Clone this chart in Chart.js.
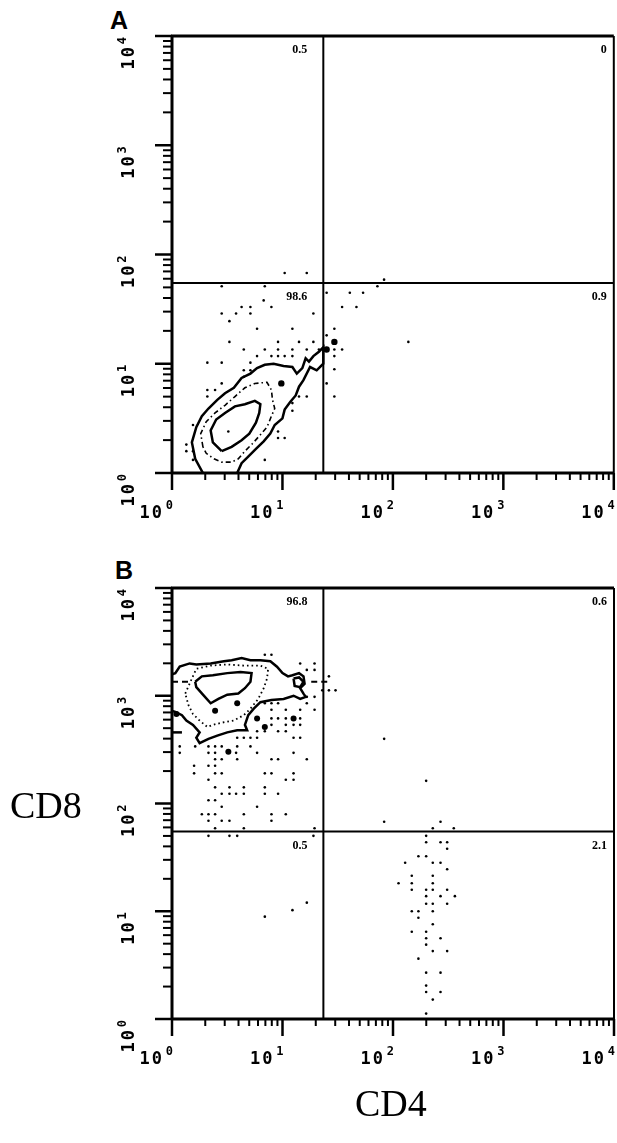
<!DOCTYPE html>
<html>
<head>
<meta charset="utf-8">
<script src="https://cdn.jsdelivr.net/npm/chart.js@4.4.1/dist/chart.umd.min.js"></script>
<style>
  html, body { margin: 0; padding: 0; background: #fff; }
  body { width: 617px; height: 1143px; position: relative; overflow: hidden; }
  canvas { position: absolute; left: 0; }
  .panel { position: absolute; font: bold 25px "Liberation Sans", Arial, sans-serif; line-height: 1; color: #000; }
  .axis-name { position: absolute; font: 38px "Liberation Serif", "Times New Roman", serif; line-height: 1; color: #000; }
</style>
</head>
<body>
<div class="panel" style="left:110px; top:8px">A</div>
<canvas id="chartA" width="617" height="540" style="top:0"></canvas>
<div class="panel" style="left:115px; top:558px">B</div>
<canvas id="chartB" width="617" height="545" style="top:543px"></canvas>
<div class="axis-name" style="left:10px; top:786px">CD8</div>
<div class="axis-name" style="left:355px; top:1084px">CD4</div>

<script>
// axes: log decades 10^0 .. 10^4 (values are log10 of fluorescence)
const decades = [0, 1, 2, 3, 4];
const decadeLabels = ['0', '1', '2', '3', '4'];   // exponents shown as 10^n
const minorSteps = [2, 3, 4, 5, 6, 7, 8, 9];

// quadrant gates [CD4, CD8] in decades
const gateA = [1.37, 1.74];
const gateB = [1.37, 1.74];

// quadrant percentages: upper-left, upper-right, lower-left, lower-right
const quadA = ['0.5', '0', '98.6', '0.9'];
const quadB = ['96.8', '0.6', '0.5', '2.1'];

// ---- panel A contours ----
const outerA = [[0.28,0.0],[0.21,0.13],[0.18,0.28],[0.22,0.42],[0.27,0.52],[0.33,0.59],[0.41,0.67],[0.48,0.73],
  [0.56,0.78],[0.63,0.87],[0.71,0.91],[0.77,0.96],[0.84,0.99],[0.92,1.00],[1.01,0.98],[1.09,0.97],[1.13,0.91],
  [1.18,0.96],[1.21,1.05],[1.24,1.02],[1.28,1.07],[1.33,1.11],[1.37,1.15],[1.37,1.00],[1.31,0.94],[1.25,0.97],
  [1.19,0.85],[1.15,0.79],[1.12,0.71],[1.07,0.65],[1.02,0.58],[1.00,0.50],[0.93,0.44],[0.89,0.36],[0.83,0.29],
  [0.76,0.22],[0.69,0.15],[0.63,0.09],[0.59,0.0]];
const midA = [[0.28,0.24],[0.26,0.36],[0.31,0.47],[0.39,0.55],[0.48,0.62],[0.57,0.70],[0.66,0.78],[0.75,0.82],
  [0.86,0.83],[0.90,0.76],[0.91,0.67],[0.93,0.59],[0.90,0.52],[0.86,0.42],[0.80,0.35],[0.73,0.27],[0.66,0.20],
  [0.60,0.13],[0.54,0.10],[0.45,0.10],[0.38,0.13],[0.31,0.18]];
const innerA = [[0.45,0.20],[0.37,0.28],[0.35,0.39],[0.40,0.49],[0.48,0.55],[0.57,0.61],[0.66,0.63],[0.75,0.66],
  [0.80,0.63],[0.79,0.55],[0.76,0.46],[0.70,0.36],[0.63,0.30],[0.54,0.24]];

const dotsA = [[1.02,1.83],[1.22,1.83],[1.86,1.71],[1.92,1.77],[0.45,1.71],[0.84,1.71],
  [1.40,1.65],[1.61,1.65],[1.73,1.65],[0.83,1.58],
  [0.63,1.52],[0.71,1.52],[0.90,1.52],[1.54,1.52],[1.67,1.52],
  [0.45,1.46],[0.58,1.46],[0.71,1.46],[1.28,1.46],[0.52,1.39],
  [0.77,1.32],[1.09,1.32],[1.47,1.32],[1.40,1.26],
  [0.52,1.20],[0.96,1.20],[1.15,1.20],[1.28,1.20],[2.14,1.20],
  [0.65,1.13],[0.84,1.13],[0.96,1.13],[1.09,1.13],[1.22,1.13],[1.33,1.13],[1.47,1.13],[1.54,1.13],
  [0.77,1.07],[0.90,1.07],[0.96,1.07],[1.02,1.07],[1.09,1.07],[1.47,1.07],
  [0.32,1.01],[0.45,1.01],[0.71,1.01],[1.47,0.95],[0.65,0.94],[0.71,0.94],[0.65,0.88],
  [0.45,0.82],[1.40,0.82],[0.32,0.76],[0.39,0.76],
  [0.32,0.70],[1.15,0.70],[1.22,0.70],[1.47,0.70],[1.09,0.64],[1.09,0.57],
  [0.96,0.38],[0.96,0.32],[1.02,0.32],[0.19,0.44],
  [0.13,0.26],[0.13,0.20],[0.19,0.20],[0.19,0.12],[0.84,0.12],[0.51,0.38]];
const blobsA = [[1.47,1.20],[1.40,1.13],[0.99,0.82]];

// ---- panel B contours ----
const outerB = [[0.00,3.20],[0.03,3.21],[0.07,3.27],[0.16,3.30],[0.22,3.29],[0.35,3.30],[0.47,3.32],[0.54,3.33],
  [0.63,3.35],[0.71,3.33],[0.80,3.33],[0.89,3.32],[0.95,3.27],[1.00,3.21],[1.05,3.18],[1.09,3.19],[1.15,3.21],
  [1.19,3.18],[1.20,3.11],[1.16,3.07],[1.19,3.02],[1.21,2.99],[1.16,2.97],[1.10,3.00],[1.01,2.97],[0.90,2.96],
  [0.80,2.94],[0.74,2.88],[0.69,2.82],[0.66,2.73],[0.68,2.68],[0.59,2.68],[0.50,2.66],[0.41,2.63],[0.33,2.60],
  [0.25,2.56],[0.22,2.61],[0.25,2.66],[0.19,2.73],[0.13,2.77],[0.09,2.82],[0.03,2.85],[0.00,2.86]];
const loopB = [[1.10,3.16],[1.15,3.17],[1.19,3.13],[1.16,3.08],[1.11,3.09]];
const innerB = [[0.21,3.13],[0.27,3.18],[0.37,3.19],[0.50,3.21],[0.62,3.22],[0.72,3.21],[0.71,3.13],[0.66,3.07],
  [0.60,3.02],[0.50,3.01],[0.42,2.97],[0.35,2.93],[0.28,3.01],[0.22,3.08]];
const dottedB = [[0.12,3.02],[0.18,3.16],[0.22,3.25],[0.35,3.28],[0.50,3.29],[0.65,3.28],[0.80,3.28],[0.87,3.25],
  [0.86,3.16],[0.83,3.07],[0.78,2.97],[0.71,2.88],[0.65,2.82],[0.56,2.77],[0.45,2.75],[0.37,2.73],[0.32,2.71],
  [0.25,2.77],[0.19,2.83],[0.15,2.91]];
const dashLeftB = [[0.00,3.13],[0.17,3.13]];
const dashRightB = [[1.26,3.13],[1.44,3.13]];
const stubB = [[0.00,2.66],[0.09,2.66]];

const dotsB = [[0.84,3.38],[0.90,3.38],[1.16,3.30],[1.29,3.30],[1.22,3.24],[1.29,3.24],[1.42,3.18],
  [1.36,3.05],[1.42,3.05],[1.48,3.05],[1.22,2.99],[1.29,2.99],
  [0.84,2.93],[0.90,2.93],[0.96,2.93],[1.22,2.93],[0.90,2.87],[1.03,2.87],[1.16,2.87],[1.29,2.87],
  [0.90,2.79],[0.96,2.79],[1.03,2.79],[1.16,2.79],[0.90,2.73],[1.03,2.73],[1.10,2.73],[1.16,2.73],
  [0.77,2.67],[0.84,2.67],[0.96,2.67],[1.03,2.67],
  [0.59,2.61],[0.65,2.61],[0.71,2.61],[0.77,2.61],[1.10,2.61],[1.16,2.61],
  [0.07,2.53],[0.21,2.53],[0.33,2.53],[0.39,2.53],[0.45,2.53],[0.59,2.53],[0.71,2.53],
  [0.07,2.47],[0.33,2.47],[0.39,2.47],[0.58,2.47],[0.77,2.47],[1.10,2.47],
  [0.39,2.41],[0.45,2.41],[0.59,2.41],[0.90,2.41],[0.96,2.41],[1.22,2.41],
  [0.20,2.35],[0.33,2.35],[0.39,2.35],
  [0.20,2.28],[0.39,2.28],[0.45,2.28],[0.84,2.28],[0.90,2.28],[1.10,2.28],
  [0.33,2.22],[1.03,2.22],[1.10,2.22],[0.39,2.15],[0.52,2.15],[0.65,2.15],[0.84,2.15],
  [0.45,2.09],[0.52,2.09],[0.58,2.09],[0.65,2.09],[0.84,2.09],[0.96,2.09],[0.33,2.03],[0.39,2.03],
  [0.45,1.97],[0.77,1.97],[0.27,1.90],[0.33,1.90],[0.39,1.90],[0.65,1.90],[0.90,1.90],[1.03,1.90],
  [0.33,1.84],[0.45,1.84],[0.52,1.84],[0.90,1.84],[0.39,1.77],[0.65,1.77],[1.29,1.77],
  [0.33,1.70],[0.52,1.70],[0.59,1.70],[1.28,1.70],
  [1.22,1.08],[1.09,1.01],[0.84,0.95],
  [1.92,2.60],[2.30,2.21],[1.92,1.83],[2.43,1.83],[2.36,1.77],[2.55,1.77],
  [2.30,1.70],[2.30,1.64],[2.43,1.64],[2.49,1.64],[2.49,1.58],[2.23,1.51],[2.30,1.51],
  [2.11,1.45],[2.36,1.45],[2.43,1.45],[2.49,1.39],[2.17,1.33],[2.36,1.33],
  [2.05,1.26],[2.17,1.26],[2.36,1.26],[2.17,1.20],[2.30,1.20],[2.36,1.20],[2.49,1.20],
  [2.30,1.14],[2.43,1.14],[2.56,1.14],[2.30,1.07],[2.36,1.07],[2.49,1.07],
  [2.17,1.00],[2.23,1.00],[2.36,1.00],[2.23,0.94],[2.36,0.88],[2.17,0.81],[2.30,0.81],
  [2.30,0.75],[2.43,0.75],[2.30,0.69],[2.36,0.63],[2.49,0.63],[2.23,0.56],
  [2.30,0.43],[2.43,0.43],[2.30,0.31],[2.30,0.25],[2.43,0.25],[2.36,0.18],[2.30,0.05]];
const blobsB = [[0.51,2.48],[0.77,2.79],[0.84,2.71],[1.10,2.79],[0.04,2.83],[0.59,2.93],[0.39,2.86]];

const toXY = pts => pts.map(p => ({ x: p[0], y: p[1] }));

function contour(pts, closed, style) {
  const data = toXY(closed ? pts.concat([pts[0]]) : pts);
  const ds = { data, showLine: true, pointRadius: 0, borderColor: '#000', borderWidth: 2.5, tension: 0, fill: false };
  if (style === 'dashdot') { ds.borderWidth = 1.6; ds.borderDash = [5, 3, 1.5, 3]; }
  if (style === 'dotted') { ds.borderWidth = 1.8; ds.borderDash = [1.6, 3]; }
  if (style === 'dashed') { ds.borderWidth = 1.8; ds.borderDash = [6, 4]; }
  return ds;
}

function dotSet(pts, r) {
  return { data: toXY(pts), showLine: false, pointRadius: r, pointHoverRadius: r,
           pointBackgroundColor: '#000', pointBorderWidth: 0, borderColor: '#000' };
}

function gateLines(g) {
  return [
    { data: [{ x: g[0], y: 0 }, { x: g[0], y: 4 }], showLine: true, pointRadius: 0, borderColor: '#000', borderWidth: 2 },
    { data: [{ x: 0, y: g[1] }, { x: 4, y: g[1] }], showLine: true, pointRadius: 0, borderColor: '#000', borderWidth: 2 }
  ];
}

// frame, log ticks, 10^n labels and quadrant numbers
const axisFrame = {
  id: 'axisFrame',
  afterDraw(chart, args, opts) {
    const ctx = chart.ctx;
    const xs = chart.scales.x, ys = chart.scales.y;
    const { left, right, top, bottom } = chart.chartArea;
    const seg = (x1, y1, x2, y2) => { ctx.beginPath(); ctx.moveTo(x1, y1); ctx.lineTo(x2, y2); ctx.stroke(); };
    ctx.save();
    ctx.strokeStyle = '#000';
    ctx.fillStyle = '#000';
    ctx.lineWidth = 3;
    seg(left - 1, top, right, top);
    seg(left, bottom, right, bottom);
    seg(left, top - 1, left, bottom + 1);
    ctx.lineWidth = 2;
    seg(right, top, right, bottom);

    // ticks
    decades.forEach((d, i) => {
      const px = xs.getPixelForValue(d), py = ys.getPixelForValue(d);
      ctx.lineWidth = 2.5;
      seg(px, bottom, px, bottom + 17);
      seg(left - 17, py, left, py);
      if (i < decades.length - 1) {
        ctx.lineWidth = 2;
        minorSteps.forEach(k => {
          const v = d + Math.log10(k);
          const mx = xs.getPixelForValue(v), my = ys.getPixelForValue(v);
          seg(mx, bottom, mx, bottom + 7);
          seg(left - 9, my, left, my);
        });
      }
    });

    // 10^n labels
    const big = 'bold 17px "DejaVu Sans Mono", monospace';
    const sup = 'bold 12px "DejaVu Sans Mono", monospace';
    ctx.textAlign = 'right';
    ctx.textBaseline = 'alphabetic';
    decades.forEach((d, i) => {
      const px = xs.getPixelForValue(d);
      ctx.font = sup; ctx.fillText(decadeLabels[i], px + 1, bottom + 36);
      ctx.font = big; ctx.letterSpacing = '2px'; ctx.fillText('10', px - 8, bottom + 45); ctx.letterSpacing = '0px';
      const py = ys.getPixelForValue(d);
      ctx.save();
      ctx.translate(134, py);
      ctx.rotate(-Math.PI / 2);
      ctx.font = sup; ctx.fillText(decadeLabels[i], -1, -8);
      ctx.font = big; ctx.letterSpacing = '2px'; ctx.fillText('10', -9, 0);
      ctx.restore();
    });

    // quadrant percentages
    const g = opts.gate, q = opts.quad;
    const gx = xs.getPixelForValue(g[0]), gy = ys.getPixelForValue(g[1]);
    ctx.font = 'bold 12px "Liberation Serif", "Times New Roman", serif';
    ctx.textBaseline = 'middle';
    ctx.textAlign = 'right';
    ctx.fillText(q[0], gx - 16, top + 14);
    ctx.fillText(q[1], right - 7, top + 14);
    ctx.fillText(q[2], gx - 16, gy + 14);
    ctx.fillText(q[3], right - 7, gy + 14);
    ctx.restore();
  }
};

function makePanel(id, padTop, xAxisH, datasets, gate, quad) {
  return new Chart(document.getElementById(id), {
    type: 'scatter',
    data: { datasets },
    options: {
      responsive: false,
      animation: false,
      devicePixelRatio: 1,
      events: [],
      layout: { padding: { top: padTop, right: 3, left: 0, bottom: 0 } },
      plugins: { legend: { display: false }, tooltip: { enabled: false }, axisFrame: { gate, quad } },
      scales: {
        x: { type: 'linear', min: 0, max: 4, ticks: { display: false }, grid: { display: false }, border: { display: false },
             afterFit: s => { s.height = xAxisH; } },
        y: { type: 'linear', min: 0, max: 4, ticks: { display: false }, grid: { display: false }, border: { display: false },
             afterFit: s => { s.width = 172; } }
      }
    },
    plugins: [axisFrame]
  });
}

makePanel('chartA', 36, 67, [
  contour(outerA, false, 'solid'),
  contour(midA, true, 'dashdot'),
  contour(innerA, true, 'solid'),
  dotSet(dotsA, 1.3),
  dotSet(blobsA, 3.2),
  ...gateLines(gateA)
], gateA, quadA);

makePanel('chartB', 45, 69, [
  contour(outerB, false, 'solid'),
  contour(loopB, true, 'solid'),
  contour(innerB, true, 'solid'),
  contour(dottedB, true, 'dotted'),
  contour(dashLeftB, false, 'dashed'),
  contour(dashRightB, false, 'dashed'),
  contour(stubB, false, 'solid'),
  dotSet(dotsB, 1.3),
  dotSet(blobsB, 3),
  ...gateLines(gateB)
], gateB, quadB);
</script>
</body>
</html>
